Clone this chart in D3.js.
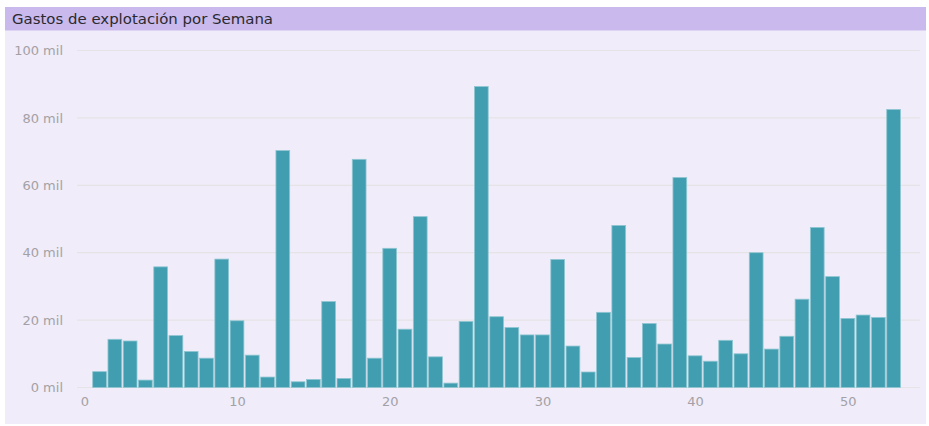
<!DOCTYPE html>
<html><head><meta charset="utf-8">
<script src="https://cdn.jsdelivr.net/npm/d3@7"></script>
<style>
html,body{margin:0;padding:0;background:#fff;}
svg{display:block;}
</style>
</head><body>
<svg id="chart" width="929" height="426"></svg>
<script>
const title = "Gastos de explotación por Semana";
const weeks = d3.range(1, 54);
const values = [4.7,14.3,13.8,2.2,35.8,15.4,10.7,8.7,38.1,19.8,
  9.6,3.1,70.3,1.7,2.4,25.5,2.7,67.7,8.7,41.3,
  17.3,50.7,9.1,1.3,19.6,89.3,21.0,17.8,15.6,15.6,
  38.0,12.3,4.6,22.3,48.1,8.9,19.0,12.9,62.3,9.4,
  7.8,14.0,10.0,40.0,11.4,15.2,26.2,47.5,32.9,20.5,
  21.5,20.8,82.5].map(v => v * 1000);
const yTicks = [0, 20000, 40000, 60000, 80000, 100000];
const xTicks = [0, 10, 20, 30, 40, 50];

const svg = d3.select("#chart");
const font = "'DejaVu Sans', sans-serif";

// panel
svg.append("rect").attr("x",5).attr("y",7).attr("width",921).attr("height",417).attr("fill","#f0ecf9");
svg.append("rect").attr("x",5).attr("y",7).attr("width",921).attr("height",23.5).attr("fill","#c9b9ec");
svg.append("text").attr("x",12).attr("y",24).attr("font-family",font).attr("font-size",14)
  .attr("textLength",261).attr("lengthAdjust","spacingAndGlyphs")
  .attr("fill","#2b2930").text(title);

const x = d3.scaleLinear().domain([0, 54]).range([84.3, 84.3 + 54 * 15.27]);
const y = d3.scaleLinear().domain([0, 100000]).range([387.5, 50.5]);

// gridlines
svg.append("g").selectAll("line").data(yTicks).join("line")
  .attr("x1", 77).attr("x2", 920)
  .attr("y1", d => y(d)).attr("y2", d => y(d))
  .attr("stroke", "#e6e3e6").attr("stroke-width", 1.2);

// y labels
const yAxis = d3.axisLeft(y).tickValues(yTicks).tickSize(0).tickPadding(0)
  .tickFormat(d => (d / 1000) + " mil");
const gy = svg.append("g").attr("transform", "translate(63,0)").call(yAxis);
gy.select(".domain").remove();
gy.selectAll("text").attr("font-family", font).attr("font-size", 13).attr("fill", "#a3a1a6");

// x labels
const xAxis = d3.axisBottom(x).tickValues(xTicks).tickSize(0).tickPadding(0).tickFormat(d3.format("d"));
const gx = svg.append("g").attr("transform", "translate(0,397)").call(xAxis);
gx.select(".domain").remove();
gx.selectAll("text").attr("font-family", font).attr("font-size", 13).attr("fill", "#a3a1a6");

// bars
const bw = (x(1) - x(0)) * 0.9;
svg.append("g").selectAll("rect").data(weeks).join("rect")
  .attr("x", (d) => x(d) - bw / 2)
  .attr("width", bw)
  .attr("y", (d, i) => y(values[i]))
  .attr("height", (d, i) => y(0) - y(values[i]))
  .attr("fill", "#419eb0")
  .attr("stroke", "#8fc6d2").attr("stroke-width", 0.8);
</script>
</body></html>
